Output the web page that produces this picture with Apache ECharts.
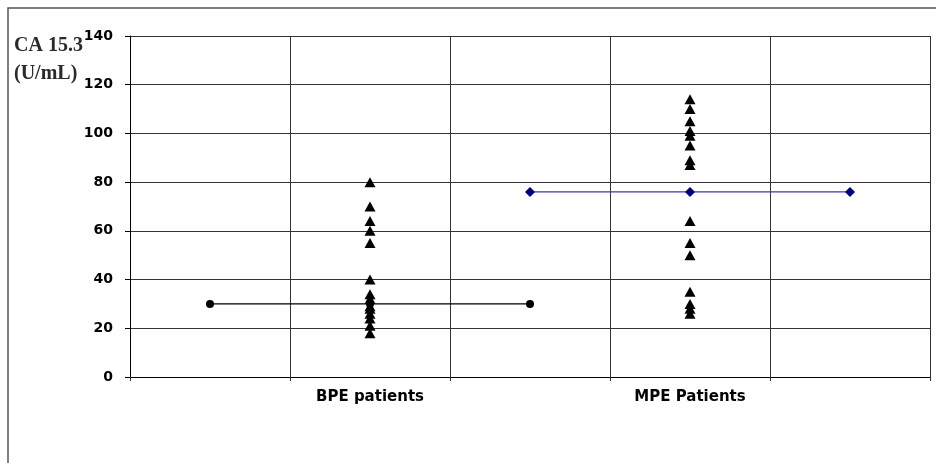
<!DOCTYPE html>
<html>
<head>
<meta charset="utf-8">
<script src="https://cdn.jsdelivr.net/npm/echarts@6/dist/echarts.min.js"></script>
<style>
  html, body { margin: 0; padding: 0; background: #fff; }
  #chart { width: 936px; height: 463px; }
</style>
</head>
<body>
<div id="chart"></div>
<script>
// Category slots along the x axis; only two carry a group name
const categories = ['', 'BPE patients', '', 'MPE Patients', ''];

// Individual CA 15.3 values (U/mL) per group
const bpeValues = [80, 70, 64, 60, 55, 40, 34, 32, 29, 28, 26, 24, 21, 18];
const mpeValues = [114, 110, 105, 101, 99, 95, 89, 87, 64, 55, 50, 35, 30, 28, 26];

// Group means, drawn as horizontal reference lines
const bpeMean = 30;
const mpeMean = 76;

// Y axis scale
const yMin = 0;
const yMax = 140;
const yStep = 20;

const bpeIndex = 1;
const mpeIndex = 3;

const chart = echarts.init(document.getElementById('chart'));

chart.setOption({
  animation: false,
  backgroundColor: '#ffffff',
  graphic: [
    {
      type: 'rect',
      shape: { x: 8, y: 8, width: 1000, height: 1000 },
      style: { fill: 'none', stroke: '#555', lineWidth: 1.5 },
      silent: true
    },
    {
      type: 'text',
      left: 14,
      top: 32,
      style: {
        text: 'CA 15.3\n(U/mL)',
        font: 'bold 20px "Liberation Serif", "Times New Roman", serif',
        fill: '#2a2a2a',
        lineHeight: 28
      }
    }
  ],
  grid: { left: 130, right: 6, top: 36, bottom: 86 },
  xAxis: {
    type: 'category',
    data: categories,
    boundaryGap: true,
    axisLine: { show: true, lineStyle: { color: '#000', width: 1 } },
    axisTick: { show: true, interval: 0, length: 4, lineStyle: { color: '#333' } },
    axisLabel: {
      interval: 0,
      margin: 13,
      color: '#000',
      fontFamily: '"DejaVu Sans", Arial, sans-serif',
      fontWeight: 'bold',
      fontSize: 15
    },
    splitLine: { show: true, interval: 0, lineStyle: { color: '#333', width: 1 } }
  },
  yAxis: {
    type: 'value',
    min: yMin,
    max: yMax,
    interval: yStep,
    axisLine: { show: true, lineStyle: { color: '#000', width: 1 } },
    axisTick: { show: true, length: 5, lineStyle: { color: '#000' } },
    axisLabel: {
      margin: 17,
      color: '#000',
      fontFamily: '"DejaVu Sans", Arial, sans-serif',
      fontWeight: 'bold',
      fontSize: 14
    },
    splitLine: { show: true, lineStyle: { color: '#333', width: 1 } }
  },
  series: [
    {
      name: 'BPE mean',
      type: 'line',
      data: [[0, bpeMean], [1, bpeMean], [2, bpeMean]],
      symbol: 'circle',
      symbolSize: 8,
      itemStyle: { color: '#000' },
      lineStyle: { color: '#000', width: 1.3 },
      z: 3
    },
    {
      name: 'MPE mean',
      type: 'line',
      data: [[2, mpeMean], [3, mpeMean], [4, mpeMean]],
      symbol: 'diamond',
      symbolSize: 10,
      itemStyle: { color: '#000080' },
      lineStyle: { color: '#3a3aa8', width: 1.3 },
      z: 3
    },
    {
      name: 'BPE patients',
      type: 'scatter',
      data: bpeValues.map(v => [bpeIndex, v]),
      symbol: 'triangle',
      symbolSize: [11, 10],
      itemStyle: { color: '#000', opacity: 1 },
      z: 4
    },
    {
      name: 'MPE Patients',
      type: 'scatter',
      data: mpeValues.map(v => [mpeIndex, v]),
      symbol: 'triangle',
      symbolSize: [11, 10],
      itemStyle: { color: '#000', opacity: 1 },
      z: 4
    }
  ]
});
</script>
</body>
</html>
